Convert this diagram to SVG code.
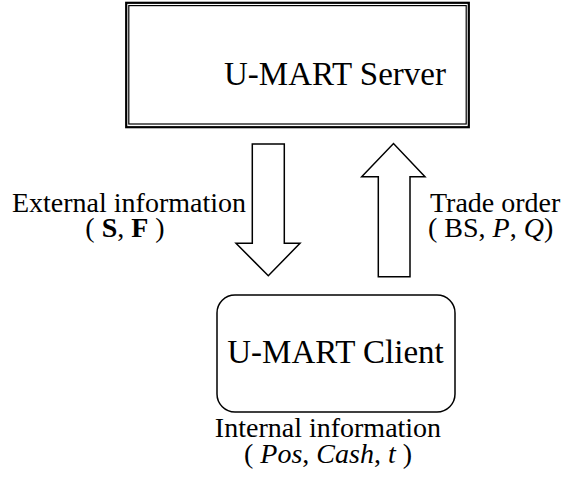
<svg xmlns="http://www.w3.org/2000/svg" width="569" height="479" viewBox="0 0 569 479" font-family="'Liberation Serif', 'DejaVu Serif', serif">
<style>
.title{font-size:33px}
.lbl{font-size:28px}
.b{font-weight:bold}
.i{font-style:italic}
.arrow{fill:#fff;stroke:#000;stroke-width:1.5;stroke-linejoin:miter}
</style>
<rect width="569" height="479" fill="#fff"/>
<g id="server">
<rect x="126.2" y="2.8" width="342.6" height="124.4" fill="#fff" stroke="#000" stroke-width="2.2"/>
<rect x="128.8" y="5.6" width="337.4" height="118.4" fill="none" stroke="#000" stroke-width="1.2"/>
<text class="title" font-family="Liberation Serif" x="335" y="85" text-anchor="middle">U-MART Server</text>
</g>
<g id="client">
<rect x="217" y="295" width="238" height="117" rx="18" ry="18" fill="#fff" stroke="#000" stroke-width="1.5"/>
<text class="title" font-family="Liberation Serif" x="335.5" y="363" text-anchor="middle">U-MART Client</text>
<text class="lbl" font-family="Liberation Serif" x="328" y="437" text-anchor="middle">Internal information</text>
<text class="lbl" font-family="Liberation Serif" x="328" y="463" text-anchor="middle">( <tspan class="i">Pos</tspan>, <tspan class="i">Cash</tspan>, <tspan class="i">t</tspan> )</text>
</g>
<g id="connectors">
<polygon class="arrow" points="252.3,144 284.3,144 284.3,243.3 300,243.3 268.3,275.7 236,243.3 252.3,243.3"/>
<polygon class="arrow" points="378.3,276.7 410,276.7 410,176.7 425,176.7 393.5,143.5 361.7,176.7 378.3,176.7"/>
<text class="lbl" font-family="Liberation Serif" x="246" y="212" text-anchor="end">External information</text>
<text class="lbl" font-family="Liberation Serif" x="125" y="237" text-anchor="middle">( <tspan class="b">S</tspan>, <tspan class="b">F</tspan> )</text>
<text class="lbl" font-family="Liberation Serif" x="430" y="212">Trade order</text>
<text class="lbl" font-family="Liberation Serif" x="428" y="237">( BS, <tspan class="i">P</tspan>, <tspan class="i">Q</tspan>)</text>
</g>
</svg>
